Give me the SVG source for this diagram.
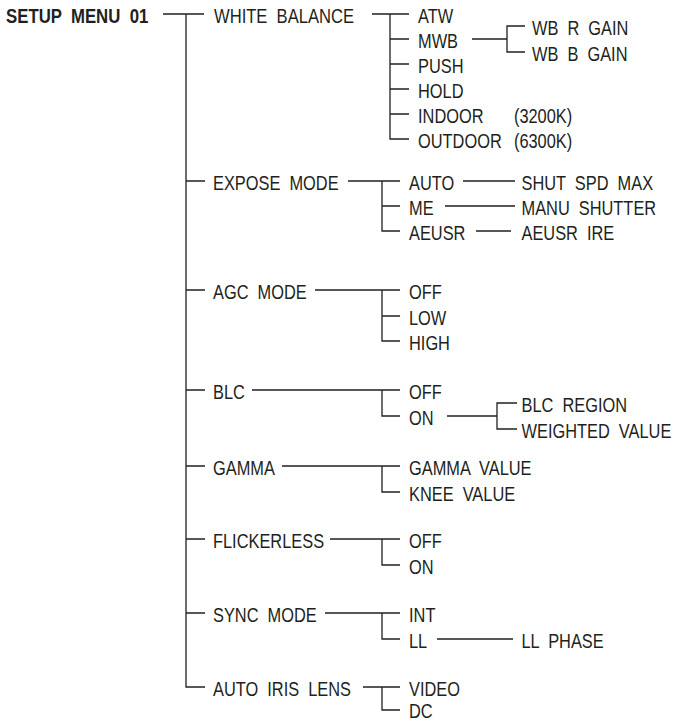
<svg xmlns="http://www.w3.org/2000/svg" width="694" height="722" viewBox="0 0 694 722">
<style>
text{font-family:"Liberation Sans",Arial,sans-serif;font-size:20px;fill:#231f20;word-spacing:5.5px}
.b{font-weight:bold}
#connectors path{fill:none;stroke:#231f20;stroke-width:1.3}
</style>
<rect width="694" height="722" fill="#fff"/>
<g id="connectors">
<path d="M163 14H204M186 14V687H205M186 181H205M186 290H205M186 390H205M186 466H205M186 539H205M186 613H205"/>
<path d="M372 14H409M390 14V139H409M390 39H409M390 64H409M390 89H409M390 114H409"/>
<path d="M472 39H507M525 26H507V52H525"/>
<path d="M348 181H400M382 181V231H400M382 206H400M463 181H515M445 206H515M476 231H511"/>
<path d="M315 290H400M382 290V341H400M382 316H400"/>
<path d="M252 390H400M382 390V416H400M447 416H497M517 403H497V429H517"/>
<path d="M282 466H400M382 466V492H400"/>
<path d="M330 539H400M382 539V565H400"/>
<path d="M325 613H400M382 613V639H400M437 639H513"/>
<path d="M363 687H400M382 687V710H400"/>
</g>
<g id="root" transform="translate(6 22.5) scale(0.84 1)"><text class="b">SETUP MENU 01</text></g>
<g id="white-balance" transform="translate(214 22.5) scale(0.83 1)"><text>WHITE BALANCE</text></g>
<g id="atw" transform="translate(418 22.5) scale(0.82 1)"><text>ATW</text></g>
<g id="mwb" transform="translate(418 47.5) scale(0.82 1)"><text>MWB</text></g>
<g id="push" transform="translate(418 72.5) scale(0.82 1)"><text>PUSH</text></g>
<g id="hold" transform="translate(418 97.5) scale(0.82 1)"><text>HOLD</text></g>
<g id="indoor" transform="translate(418 122.5) scale(0.82 1)"><text>INDOOR<tspan x="117">(3200K)</tspan></text></g>
<g id="outdoor" transform="translate(418 147.5) scale(0.82 1)"><text>OUTDOOR<tspan x="117">(6300K)</tspan></text></g>
<g id="wb-r-gain" transform="translate(532 34.5) scale(0.82 1)"><text>WB R GAIN</text></g>
<g id="wb-b-gain" transform="translate(532 60.5) scale(0.82 1)"><text>WB B GAIN</text></g>
<g id="expose-mode" transform="translate(213 189.5) scale(0.82 1)"><text>EXPOSE MODE</text></g>
<g id="auto" transform="translate(409 189.5) scale(0.82 1)"><text>AUTO</text></g>
<g id="me" transform="translate(409 214.5) scale(0.82 1)"><text>ME</text></g>
<g id="aeusr" transform="translate(409 239.5) scale(0.82 1)"><text>AEUSR</text></g>
<g id="shut-spd-max" transform="translate(521.5 189.5) scale(0.82 1)"><text>SHUT SPD MAX</text></g>
<g id="manu-shutter" transform="translate(521.5 214.5) scale(0.82 1)"><text>MANU SHUTTER</text></g>
<g id="aeusr-ire" transform="translate(521.5 239.5) scale(0.82 1)"><text>AEUSR IRE</text></g>
<g id="agc-mode" transform="translate(213 298.5) scale(0.82 1)"><text>AGC MODE</text></g>
<g id="agc-off" transform="translate(409 298.5) scale(0.82 1)"><text>OFF</text></g>
<g id="agc-low" transform="translate(409 324.5) scale(0.82 1)"><text>LOW</text></g>
<g id="agc-high" transform="translate(409 349.5) scale(0.82 1)"><text>HIGH</text></g>
<g id="blc" transform="translate(213 398.5) scale(0.82 1)"><text>BLC</text></g>
<g id="blc-off" transform="translate(409 398.5) scale(0.82 1)"><text>OFF</text></g>
<g id="blc-on" transform="translate(409 424.5) scale(0.82 1)"><text>ON</text></g>
<g id="blc-region" transform="translate(521.5 411.5) scale(0.82 1)"><text>BLC REGION</text></g>
<g id="weighted-value" transform="translate(521.5 437.5) scale(0.82 1)"><text>WEIGHTED VALUE</text></g>
<g id="gamma" transform="translate(213 474.5) scale(0.82 1)"><text>GAMMA</text></g>
<g id="gamma-value" transform="translate(409 474.5) scale(0.82 1)"><text>GAMMA VALUE</text></g>
<g id="knee-value" transform="translate(409 500.5) scale(0.82 1)"><text>KNEE VALUE</text></g>
<g id="flickerless" transform="translate(213 547.5) scale(0.82 1)"><text>FLICKERLESS</text></g>
<g id="flk-off" transform="translate(409 547.5) scale(0.82 1)"><text>OFF</text></g>
<g id="flk-on" transform="translate(409 573.5) scale(0.82 1)"><text>ON</text></g>
<g id="sync-mode" transform="translate(213 621.5) scale(0.82 1)"><text>SYNC MODE</text></g>
<g id="int" transform="translate(409 621.5) scale(0.82 1)"><text>INT</text></g>
<g id="ll" transform="translate(409 647.5) scale(0.82 1)"><text>LL</text></g>
<g id="ll-phase" transform="translate(521.5 647.5) scale(0.82 1)"><text>LL PHASE</text></g>
<g id="auto-iris-lens" transform="translate(213 695.5) scale(0.82 1)"><text>AUTO IRIS LENS</text></g>
<g id="video" transform="translate(409 695.5) scale(0.82 1)"><text>VIDEO</text></g>
<g id="dc" transform="translate(409 717.5) scale(0.82 1)"><text>DC</text></g>
</svg>
